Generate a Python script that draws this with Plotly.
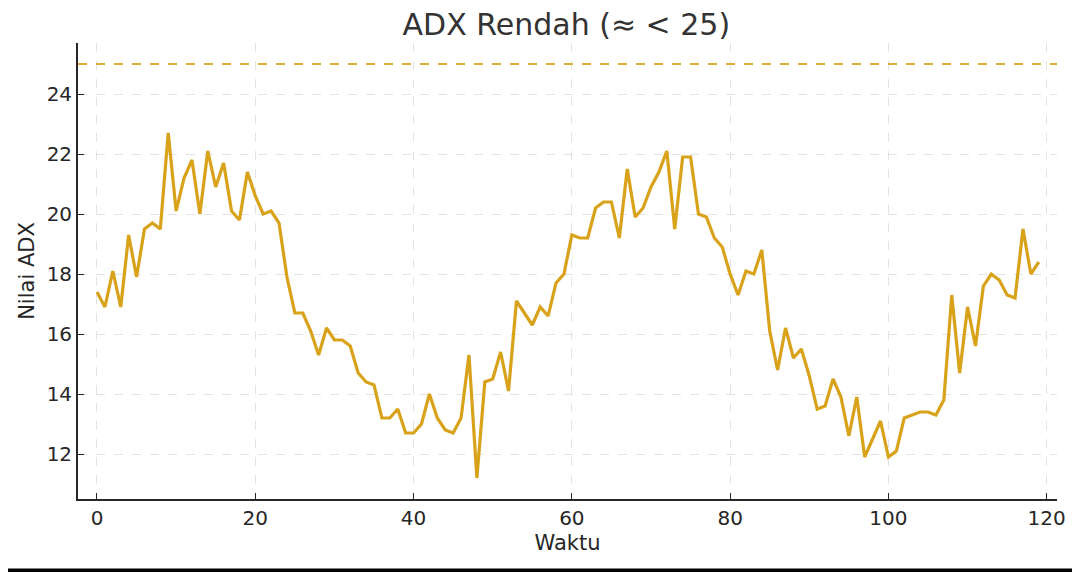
import plotly.graph_objects as go

# ADX values, one per time step
waktu = list(range(120))
adx = [
  17.4, 16.9, 18.1, 16.9, 19.3, 17.9, 19.5, 19.7, 19.5, 22.7,
  20.1, 21.2, 21.8, 20.0, 22.1, 20.9, 21.7, 20.1, 19.8, 21.4,
  20.6, 20.0, 20.1, 19.7, 17.9, 16.7, 16.7, 16.1, 15.3, 16.2,
  15.8, 15.8, 15.6, 14.7, 14.4, 14.3, 13.2, 13.2, 13.5, 12.7,
  12.7, 13.0, 14.0, 13.2, 12.8, 12.7, 13.2, 15.3, 11.2, 14.4,
  14.5, 15.4, 14.1, 17.1, 16.7, 16.3, 16.9, 16.6, 17.7, 18.0,
  19.3, 19.2, 19.2, 20.2, 20.4, 20.4, 19.2, 21.5, 19.9, 20.2,
  20.9, 21.4, 22.1, 19.5, 21.9, 21.9, 20.0, 19.9, 19.2, 18.9,
  18.0, 17.3, 18.1, 18.0, 18.8, 16.1, 14.8, 16.2, 15.2, 15.5,
  14.6, 13.5, 13.6, 14.5, 13.9, 12.6, 13.9, 11.9, 12.5, 13.1,
  11.9, 12.1, 13.2, 13.3, 13.4, 13.4, 13.3, 13.8, 17.3, 14.7,
  16.9, 15.6, 17.6, 18.0, 17.8, 17.3, 17.2, 19.5, 18.0, 18.4,
]
batas = 25
x_ticks = [0, 20, 40, 60, 80, 100, 120]
y_ticks = [12, 14, 16, 18, 20, 22, 24]

GOLD = '#D9A21B'
FONT = 'DejaVu Sans'

fig = go.Figure()
fig.add_trace(go.Scatter(
  x=waktu, y=adx, mode='lines',
  line=dict(color=GOLD, width=3.2),
  showlegend=False,
))
# threshold line
fig.add_hline(y=batas, line=dict(color='#DDAE3A', width=2, dash='dash'))
# black border strip at the bottom of the screenshot
fig.add_shape(type='line', xref='paper', yref='paper', x0=-0.1, x1=1.1, y0=-0.157, y1=-0.157,
              line=dict(color='black', width=4))

axis_common = dict(
  showline=True, linecolor='#262626', linewidth=1.8,
  ticks='inside', ticklen=6, tickwidth=1.2, tickcolor='#262626',
  showgrid=True, gridcolor='#E3E3E3', gridwidth=0.8, griddash='dash',
  zeroline=False, mirror=False, automargin=False,
  tickfont=dict(family=FONT, size=20, color='#262626'),
)
fig.update_xaxes(
  **axis_common, range=[-2.4, 121.3], tickvals=x_ticks,
  title=dict(text='Waktu', font=dict(family=FONT, size=21, color='#262626'), standoff=6),
)
fig.update_yaxes(
  **axis_common, range=[10.5, 25.7], tickvals=y_ticks,
  title=dict(text='Nilai ADX', font=dict(family=FONT, size=21, color='#262626'), standoff=6),
)

# page body adds ~8px offset, margins compensate for it
fig.update_layout(
  width=1080, height=572,
  paper_bgcolor='white', plot_bgcolor='white',
  margin=dict(l=70, r=31, t=35, b=81),
  title=dict(
    text='ADX Rendah (≈ < 25)', x=0.517, xanchor='center', y=0.972, yanchor='middle',
    font=dict(family=FONT, size=30, color='#333333'),
  ),
)

fig.write_html('out.html')
